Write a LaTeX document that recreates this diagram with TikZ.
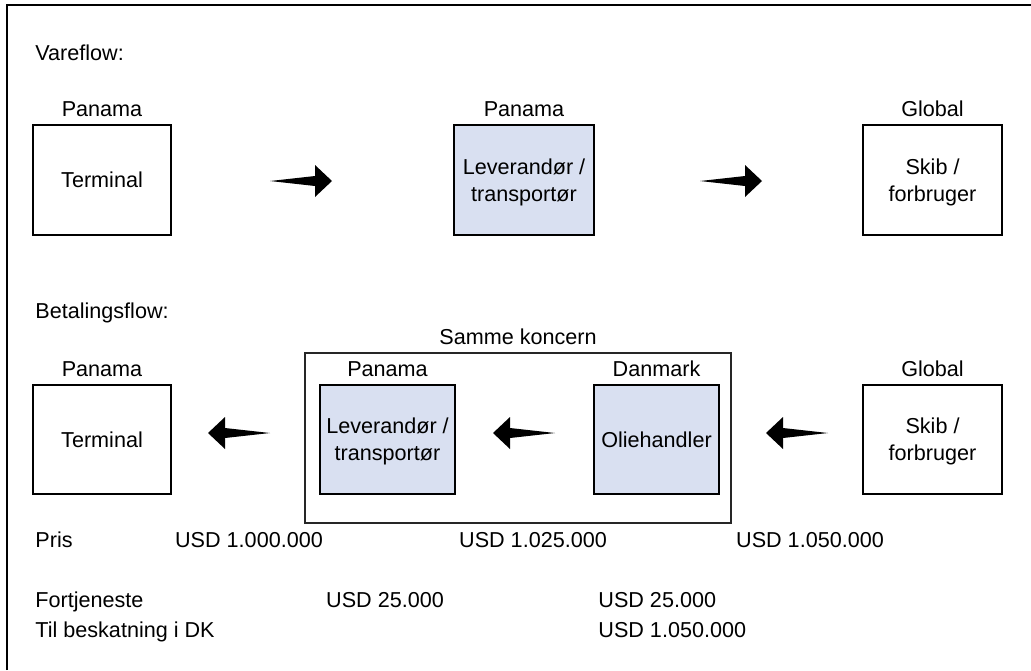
\documentclass[tikz,border=0pt]{standalone}
\usepackage{fontspec}
\setmainfont{Liberation Sans}
\usetikzlibrary{positioning}
\definecolor{boksblaa}{RGB}{217,224,241}

\begin{document}
\begin{tikzpicture}[
      x=0.5pt, y=-0.5pt,
      every node/.style={font=\fontsize{10.8}{13.5}\selectfont},
      boks/.style    ={rectangle, draw, line width=1pt, align=center, inner sep=0pt, text depth=0pt, minimum width=69pt, minimum height=55pt},
      blaaboks/.style={boks, fill=boksblaa},
      koncern/.style ={rectangle, draw=black!85, line width=0.8pt, minimum width=213pt, minimum height=85pt},
      land/.style    ={label={above:#1}},
      tekst/.style   ={anchor=west, inner sep=0pt, text height=7.8pt, text depth=0pt},
      beloeb/.style  ={inner sep=0pt, text height=7.8pt, text depth=0pt},
      flowpil/.pic   ={\fill (0,0) -- (45,-5) -- (45,-16) -- (62,0) -- (45,16) -- (45,5) -- cycle;}
    ]
    \useasboundingbox (0,0) rectangle (1031,670);

    % Ramme
    \draw[line width=1pt] (7,670) -- (7,5) -- (1031,5);

    % Vareflow
    \node[tekst] (VF) at (35,53) {Vareflow:};
    \node[boks, land=Panama]                    (VT) at (102,180)   {Terminal};
    \node[blaaboks, land=Panama, minimum width=70pt] (VL) at (524,180) {Leverandør /\\transportør};
    \node[boks, land=Global, minimum width=69.5pt]   (VS) at (932.5,180) {Skib /\\forbruger};

    \pic at (270,181) {flowpil};
    \pic at (700,181) {flowpil};

    % Betalingsflow
    \node[tekst] (BF) at (35,311) {Betalingsflow:};
    \node[koncern, label={above:Samme koncern}] (SK) at (518,438) {};
    \node[boks, land=Panama, minimum height=54.5pt] (BT) at (102,439.5) {Terminal};
    \node[blaaboks, land=Panama, minimum width=67.5pt, minimum height=54.5pt]  (BL) at (387.5,439.5) {Leverandør /\\transportør};
    \node[blaaboks, land=Danmark, minimum width=62.5pt, minimum height=54.5pt] (BO) at (656.5,439.5) {Oliehandler};
    \node[boks, land=Global, minimum width=69.5pt, minimum height=54.5pt]      (BS) at (932.5,439.5) {Skib /\\forbruger};

    \pic[xscale=-1] at (270,433) {flowpil};
    \pic[xscale=-1] at (555,433) {flowpil};
    \pic[xscale=-1] at (828,433) {flowpil};

    % Priser og fortjeneste
    \node[tekst]  (PR) at (35,540)  {Pris};
    \node[beloeb] (P1) at (249,540) {USD 1.000.000};
    \node[beloeb] (P2) at (533,540) {USD 1.025.000};
    \node[beloeb] (P3) at (810,540) {USD 1.050.000};

    \node[tekst]  (FT) at (35,600)  {Fortjeneste};
    \node[tekst]  (TB) at (35,630)  {Til beskatning i DK};
    \node[beloeb] (F1) at (385,600) {USD 25.000};
    \node[tekst]  (F2) at (598,600) {USD 25.000};
    \node[tekst]  (T2) at (598,630) {USD 1.050.000};

  \end{tikzpicture}
\end{document}
